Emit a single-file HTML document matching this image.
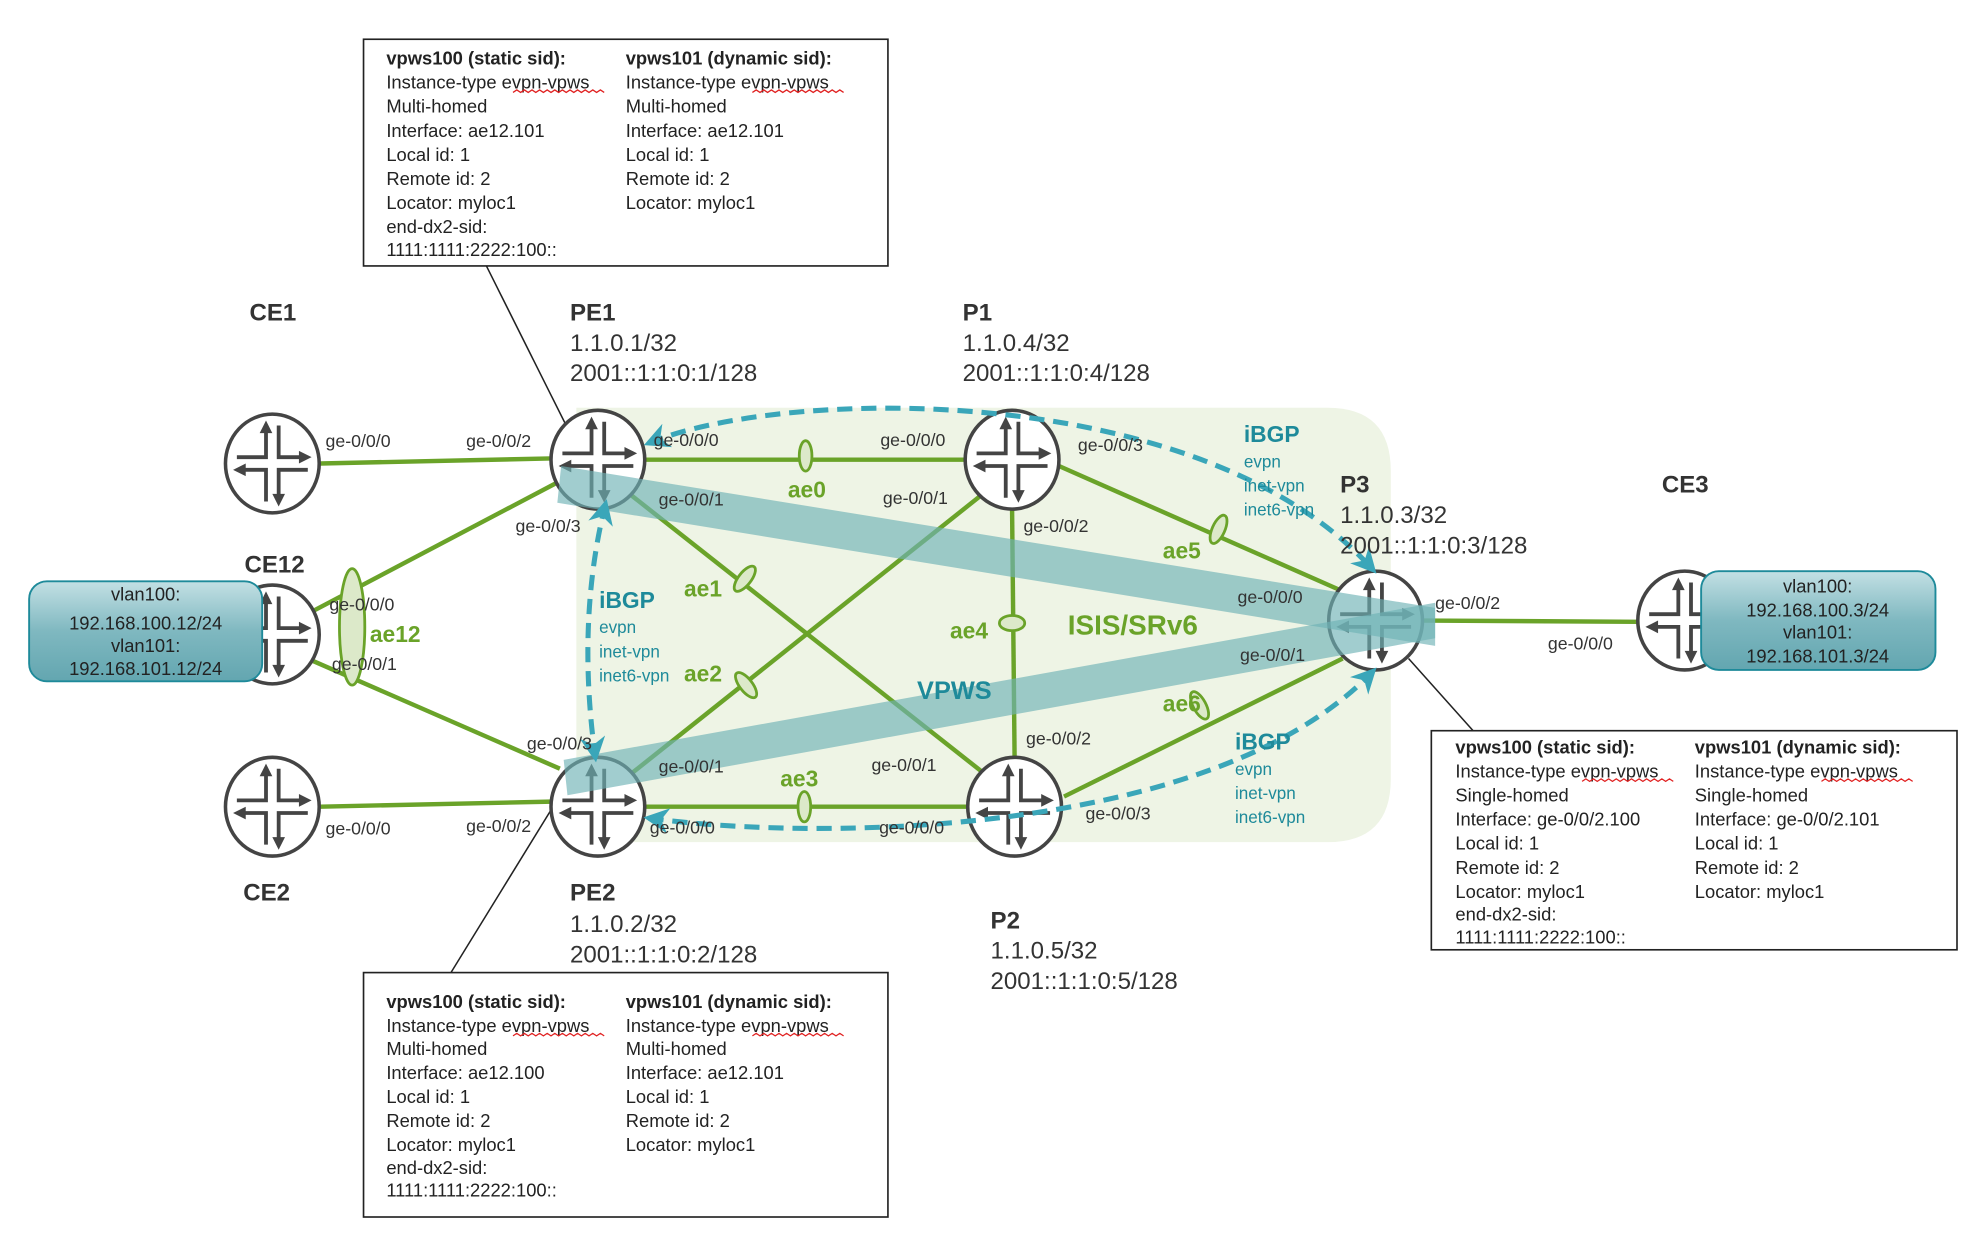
<!DOCTYPE html>
<html><head><meta charset="utf-8"><style>
html,body{margin:0;padding:0;background:#fff;}
svg{display:block;}
text{font-family:"Liberation Sans",sans-serif;}
.bx{font-size:14.5px;fill:#222;}
.bh{font-weight:bold;}
.ge{font-size:14px;fill:#333;}
.nm{font-size:19px;font-weight:bold;fill:#333;}
.ad{font-size:19px;fill:#333;}
.ae{font-size:18px;font-weight:bold;fill:#6aa329;}
.tb{font-size:18px;font-weight:bold;fill:#1e8a9a;}
.ts{font-size:13.5px;fill:#1e8a9a;}
.lk{stroke:#6aa329;stroke-width:3.5;fill:none;}
.lag{stroke:#6aa329;stroke-width:2.2;fill:#dce9c9;}
.dash{stroke:#3aa6b9;stroke-width:4;fill:none;stroke-dasharray:12 7;}
</style></head><body>
<svg width="1976" height="1236" viewBox="0 0 1560 976" preserveAspectRatio="none" xmlns="http://www.w3.org/2000/svg">
<defs>
<g id="rt">
<ellipse cx="0" cy="0" rx="37" ry="39" fill="#fff" stroke="#444" stroke-width="2.8"/>
<g stroke="#444" stroke-width="3" fill="none">
<path d="M-5,-30 V-5 H-28"/><path d="M5,-30 V-5 H27"/>
<path d="M-27,5 H-5 V30"/><path d="M28,5 H5 V30"/>
</g>
<g fill="#444">
<path d="M-5,-34 L-10,-24 L0,-24 Z"/>
<path d="M31,-5 L21,-10 L21,0 Z"/>
<path d="M-31,5 L-21,0 L-21,10 Z"/>
<path d="M5,34 L0,24 L10,24 Z"/>
</g>
</g>
<marker id="ah" viewBox="0 0 10 10" refX="8" refY="5" markerWidth="5" markerHeight="5" orient="auto-start-reverse"><path d="M0,0 L10,5 L0,10 L3,5 Z" fill="#3aa6b9"/></marker>
<linearGradient id="tg" x1="0" y1="0" x2="0" y2="1"><stop offset="0" stop-color="#c3e0e4"/><stop offset="0.5" stop-color="#7fb8c0"/><stop offset="1" stop-color="#63a6b0"/></linearGradient>
</defs>

<path d="M455,322 H1048 Q1098,322 1098,372 V615 Q1098,665 1048,665 H455 Z" fill="#eef4e5"/>

<g stroke="#222" stroke-width="1.2">
<line x1="384" y1="210" x2="447" y2="336"/>
<line x1="356" y1="768" x2="452" y2="612"/>
<line x1="1163" y1="577" x2="1112" y2="520"/>
</g>

<g>
<line class="lk" x1="253" y1="366" x2="435" y2="362"/>
<line class="lk" x1="248" y1="482" x2="440" y2="381"/>
<line class="lk" x1="245" y1="521" x2="442" y2="607"/>
<line class="lk" x1="253" y1="637" x2="435" y2="633"/>
<line class="lk" x1="509" y1="363" x2="762" y2="363"/>
<line class="lk" x1="509" y1="637" x2="764" y2="637"/>
<line class="lk" x1="497" y1="390" x2="776" y2="610"/>
<line class="lk" x1="497" y1="612" x2="776" y2="390"/>
<line class="lk" x1="799" y1="401" x2="801" y2="599"/>
<line class="lk" x1="836" y1="368" x2="1058" y2="466"/>
<line class="lk" x1="840" y1="629" x2="1060" y2="520"/>
<line class="lk" x1="1123" y1="490" x2="1293" y2="491"/>
</g>

<ellipse class="lag" cx="278" cy="495" rx="10" ry="46"/>
<ellipse class="lag" cx="636" cy="360" rx="5" ry="12"/>
<ellipse class="lag" cx="635" cy="637" rx="5" ry="12"/>
<ellipse class="lag" cx="588" cy="457" rx="5" ry="12" transform="rotate(38 588 457)"/>
<ellipse class="lag" cx="589" cy="541" rx="5" ry="12" transform="rotate(-38 589 541)"/>
<ellipse class="lag" cx="799" cy="492" rx="10" ry="6"/>
<ellipse class="lag" cx="962" cy="418" rx="5" ry="12" transform="rotate(24 962 418)"/>
<ellipse class="lag" cx="947" cy="557" rx="5" ry="12" transform="rotate(-28 947 557)"/>

<use href="#rt" x="215" y="366"/>
<use href="#rt" x="215" y="501"/>
<use href="#rt" x="215" y="637"/>
<use href="#rt" x="472" y="363"/>
<use href="#rt" x="472" y="637"/>
<use href="#rt" x="799" y="363"/>
<use href="#rt" x="801" y="637"/>
<use href="#rt" x="1086" y="490"/>
<use href="#rt" x="1330" y="490"/>

<polygon points="443,368 1133,480 1133,510 440,397" fill="#6fb2b6" opacity="0.65"/>
<polygon points="445,600 1133,476 1133,504 448,628" fill="#6fb2b6" opacity="0.65"/>

<path class="dash" marker-start="url(#ah)" marker-end="url(#ah)" d="M512,350 C620,305 950,300 1084,450"/>
<path class="dash" marker-start="url(#ah)" marker-end="url(#ah)" d="M478,398 C460,470 462,540 470,598"/>
<path class="dash" marker-start="url(#ah)" marker-end="url(#ah)" d="M512,646 C650,665 960,660 1084,530"/>

<rect x="23" y="459" width="184" height="79" rx="14" fill="url(#tg)" stroke="#1e8a9a" stroke-width="1.5"/>
<g class="bx" text-anchor="middle"><text x="115" y="474">vlan100:</text><text x="115" y="497">192.168.100.12/24</text><text x="115" y="515">vlan101:</text><text x="115" y="533">192.168.101.12/24</text></g>
<rect x="1343" y="451" width="185" height="78" rx="14" fill="url(#tg)" stroke="#1e8a9a" stroke-width="1.5"/>
<g class="bx" text-anchor="middle"><text x="1435" y="468">vlan100:</text><text x="1435" y="487">192.168.100.3/24</text><text x="1435" y="504">vlan101:</text><text x="1435" y="523">192.168.101.3/24</text></g>

<text class="nm" x="197" y="253">CE1</text>
<text class="nm" x="193" y="452">CE12</text>
<text class="nm" x="192" y="711">CE2</text>
<text class="nm" x="1312" y="389">CE3</text>
<text class="nm" x="450" y="253">PE1</text>
<text class="ad" x="450" y="277">1.1.0.1/32</text><text class="ad" x="450" y="301">2001::1:1:0:1/128</text>
<text class="nm" x="760" y="253">P1</text>
<text class="ad" x="760" y="277">1.1.0.4/32</text><text class="ad" x="760" y="301">2001::1:1:0:4/128</text>
<text class="nm" x="1058" y="389">P3</text>
<text class="ad" x="1058" y="413">1.1.0.3/32</text><text class="ad" x="1058" y="437">2001::1:1:0:3/128</text>
<text class="nm" x="450" y="711">PE2</text>
<text class="ad" x="450" y="736">1.1.0.2/32</text><text class="ad" x="450" y="760">2001::1:1:0:2/128</text>
<text class="nm" x="782" y="733">P2</text>
<text class="ad" x="782" y="757">1.1.0.5/32</text>
<text class="ad" x="782" y="781">2001::1:1:0:5/128</text>

<g class="ge">
<text x="257" y="353">ge-0/0/0</text><text x="368" y="353">ge-0/0/2</text>
<text x="407" y="420">ge-0/0/3</text>
<text x="260" y="482">ge-0/0/0</text><text x="262" y="529">ge-0/0/1</text>
<text x="416" y="592">ge-0/0/3</text>
<text x="257" y="659">ge-0/0/0</text><text x="368" y="657">ge-0/0/2</text>
<text x="516" y="352">ge-0/0/0</text><text x="695" y="352">ge-0/0/0</text>
<text x="520" y="399">ge-0/0/1</text><text x="697" y="398">ge-0/0/1</text>
<text x="851" y="356">ge-0/0/3</text><text x="808" y="420">ge-0/0/2</text>
<text x="977" y="476">ge-0/0/0</text><text x="979" y="522">ge-0/0/1</text>
<text x="1133" y="481">ge-0/0/2</text><text x="1222" y="513">ge-0/0/0</text>
<text x="520" y="610">ge-0/0/1</text><text x="688" y="609">ge-0/0/1</text>
<text x="810" y="588">ge-0/0/2</text>
<text x="513" y="658">ge-0/0/0</text><text x="694" y="658">ge-0/0/0</text>
<text x="857" y="647">ge-0/0/3</text>
</g>

<text class="ae" x="292" y="507">ae12</text>
<text class="ae" x="622" y="393">ae0</text>
<text class="ae" x="540" y="471">ae1</text>
<text class="ae" x="540" y="538">ae2</text>
<text class="ae" x="616" y="621">ae3</text>
<text class="ae" x="750" y="504">ae4</text>
<text class="ae" x="918" y="441">ae5</text>
<text class="ae" x="918" y="562">ae6</text>
<text x="843" y="501" font-size="22" font-weight="bold" fill="#6aa329">ISIS/SRv6</text>
<text x="724" y="552" font-size="20" font-weight="bold" fill="#1e8a9a">VPWS</text>

<text class="tb" x="982" y="349">iBGP</text><text class="ts" x="982" y="369">evpn</text><text class="ts" x="982" y="388">inet-vpn</text><text class="ts" x="982" y="407">inet6-vpn</text>
<text class="tb" x="473" y="480">iBGP</text><text class="ts" x="473" y="500">evpn</text><text class="ts" x="473" y="519">inet-vpn</text><text class="ts" x="473" y="538">inet6-vpn</text>
<text class="tb" x="975" y="592">iBGP</text><text class="ts" x="975" y="612">evpn</text><text class="ts" x="975" y="631">inet-vpn</text><text class="ts" x="975" y="650">inet6-vpn</text>

<rect x="287" y="31" width="414" height="179" fill="#fff" stroke="#222" stroke-width="1.3"/>
<g class="bx">
<text class="bh" x="305" y="51">vpws100 (static sid):</text><text x="305" y="70">Instance-type evpn-vpws</text><text x="305" y="89">Multi-homed</text><text x="305" y="108">Interface: ae12.101</text><text x="305" y="127">Local id: 1</text><text x="305" y="146">Remote id: 2</text><text x="305" y="165">Locator: myloc1</text><text x="305" y="184">end-dx2-sid:</text><text x="305" y="202">1111:1111:2222:100::</text>
<text class="bh" x="494" y="51">vpws101 (dynamic sid):</text><text x="494" y="70">Instance-type evpn-vpws</text><text x="494" y="89">Multi-homed</text><text x="494" y="108">Interface: ae12.101</text><text x="494" y="127">Local id: 1</text><text x="494" y="146">Remote id: 2</text><text x="494" y="165">Locator: myloc1</text>
</g>
<rect x="287" y="768" width="414" height="193" fill="#fff" stroke="#222" stroke-width="1.3"/>
<g class="bx">
<text class="bh" x="305" y="796">vpws100 (static sid):</text><text x="305" y="815">Instance-type evpn-vpws</text><text x="305" y="833">Multi-homed</text><text x="305" y="852">Interface: ae12.100</text><text x="305" y="871">Local id: 1</text><text x="305" y="890">Remote id: 2</text><text x="305" y="909">Locator: myloc1</text><text x="305" y="927">end-dx2-sid:</text><text x="305" y="945">1111:1111:2222:100::</text>
<text class="bh" x="494" y="796">vpws101 (dynamic sid):</text><text x="494" y="815">Instance-type evpn-vpws</text><text x="494" y="833">Multi-homed</text><text x="494" y="852">Interface: ae12.101</text><text x="494" y="871">Local id: 1</text><text x="494" y="890">Remote id: 2</text><text x="494" y="909">Locator: myloc1</text>
</g>
<rect x="1130" y="577" width="415" height="173" fill="#fff" stroke="#222" stroke-width="1.3"/>
<g class="bx">
<text class="bh" x="1149" y="595">vpws100 (static sid):</text><text x="1149" y="614">Instance-type evpn-vpws</text><text x="1149" y="633">Single-homed</text><text x="1149" y="652">Interface: ge-0/0/2.100</text><text x="1149" y="671">Local id: 1</text><text x="1149" y="690">Remote id: 2</text><text x="1149" y="709">Locator: myloc1</text><text x="1149" y="727">end-dx2-sid:</text><text x="1149" y="745">1111:1111:2222:100::</text>
<text class="bh" x="1338" y="595">vpws101 (dynamic sid):</text><text x="1338" y="614">Instance-type evpn-vpws</text><text x="1338" y="633">Single-homed</text><text x="1338" y="652">Interface: ge-0/0/2.101</text><text x="1338" y="671">Local id: 1</text><text x="1338" y="690">Remote id: 2</text><text x="1338" y="709">Locator: myloc1</text>
</g>
<g stroke="#e02020" stroke-width="1" fill="none">
<path d="M405,73 l3,-2 l3,2 l3,-2 l3,2 l3,-2 l3,2 l3,-2 l3,2 l3,-2 l3,2 l3,-2 l3,2 l3,-2 l3,2 l3,-2 l3,2 l3,-2 l3,2 l3,-2 l3,2 l3,-2 l3,2 l3,-2 l3,2"/>
<path d="M594,73 l3,-2 l3,2 l3,-2 l3,2 l3,-2 l3,2 l3,-2 l3,2 l3,-2 l3,2 l3,-2 l3,2 l3,-2 l3,2 l3,-2 l3,2 l3,-2 l3,2 l3,-2 l3,2 l3,-2 l3,2 l3,-2 l3,2"/>
<path d="M405,818 l3,-2 l3,2 l3,-2 l3,2 l3,-2 l3,2 l3,-2 l3,2 l3,-2 l3,2 l3,-2 l3,2 l3,-2 l3,2 l3,-2 l3,2 l3,-2 l3,2 l3,-2 l3,2 l3,-2 l3,2 l3,-2 l3,2"/>
<path d="M594,818 l3,-2 l3,2 l3,-2 l3,2 l3,-2 l3,2 l3,-2 l3,2 l3,-2 l3,2 l3,-2 l3,2 l3,-2 l3,2 l3,-2 l3,2 l3,-2 l3,2 l3,-2 l3,2 l3,-2 l3,2 l3,-2 l3,2"/>
<path d="M1249,617 l3,-2 l3,2 l3,-2 l3,2 l3,-2 l3,2 l3,-2 l3,2 l3,-2 l3,2 l3,-2 l3,2 l3,-2 l3,2 l3,-2 l3,2 l3,-2 l3,2 l3,-2 l3,2 l3,-2 l3,2 l3,-2 l3,2"/>
<path d="M1438,617 l3,-2 l3,2 l3,-2 l3,2 l3,-2 l3,2 l3,-2 l3,2 l3,-2 l3,2 l3,-2 l3,2 l3,-2 l3,2 l3,-2 l3,2 l3,-2 l3,2 l3,-2 l3,2 l3,-2 l3,2 l3,-2 l3,2"/>
</g>
</svg>
</body></html>
